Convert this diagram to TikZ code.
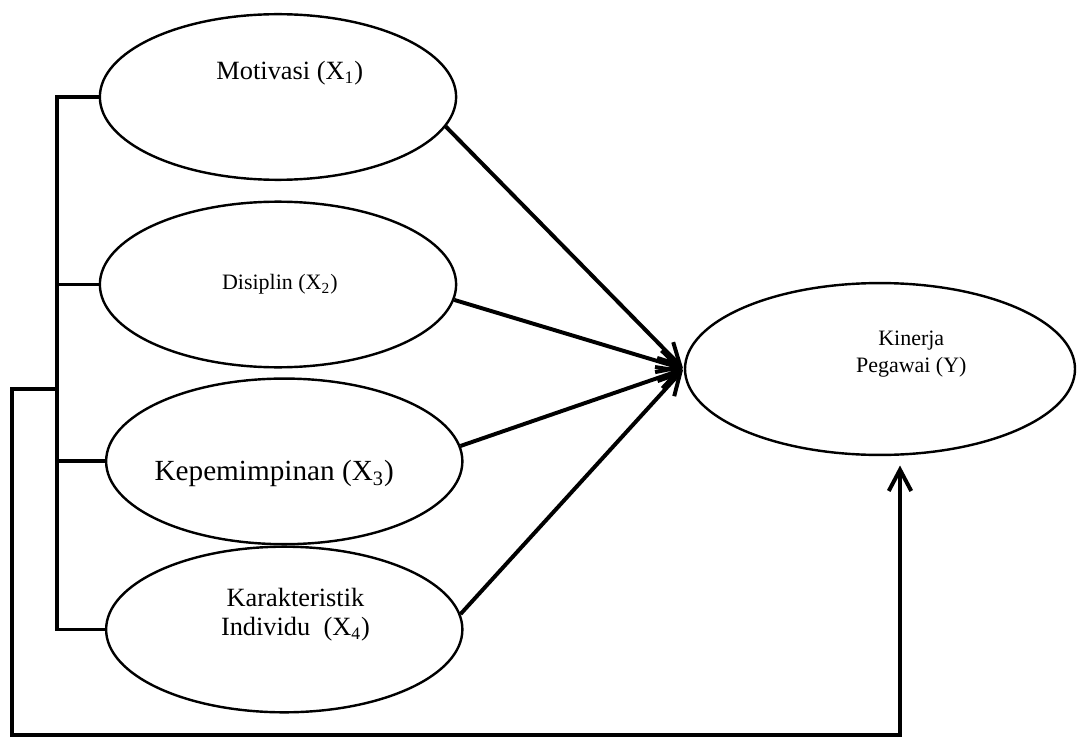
\documentclass[tikz,border=0pt]{standalone}
\usepackage{fontspec}
\setmainfont{Liberation Serif}
\usetikzlibrary{arrows.meta,shapes.geometric}

\begin{document}
\begin{tikzpicture}[
            > = {Straight Barb[length=3.4mm,width=3.6mm]}, % open arrow head
            factor/.style = {ellipse, draw, line width=1.1pt,
                minimum width=5.7cm, minimum height=2.65cm, inner sep=0pt},
            link/.style = {line width=1.8pt}, % connector style
            small/.style = {font=\fontsize{10}{12}\selectfont},
            node distance = 2.83cm, % distance between ellipses
            font = \fontsize{12}{13}\selectfont
        ]
    \useasboundingbox (0,0) rectangle (17.248,-11.792);

    \node[factor] (mot) at (4.448,-1.552) {};
    \node[factor] (dis) [below of=mot, node distance=3.0cm] {};
    \node[factor] (kep) [below of=dis, xshift=0.1cm] {};
    \node[factor] (kar) [below of=kep, node distance=2.69cm] {};
    \node[factor, minimum width=6.24cm, minimum height=2.75cm] (kin) at (14.08,-5.904) {};

    % texts
    \node (motlbl) at ([shift={(0.19,0.38)}]mot.center) {Motivasi (X\textsubscript{1})};
    \node[small] (dislbl) at ([shift={(0.03,0)}]dis.center) {Disiplin (X\textsubscript{2})};
    \node[font=\fontsize{13.3}{15}\selectfont] (keplbl) at ([shift={(-0.16,-0.19)}]kep.center) {Kepemimpinan (X\textsubscript{3})};
    \node[align=center] (karlbl) at ([shift={(0.18,0.24)}]kar.center) {Karakteristik\\Individu\ \ (X\textsubscript{4})};
    \node[small, align=center] (kinlbl) at ([shift={(0.5,0.24)}]kin.center) {Kinerja\\Pegawai (Y)};

    % bracket on the left
    \coordinate (brk) at (0.912,0);
    \coordinate (jn) at (0.912,-6.224);
    \coordinate (lo) at (0.192,-11.76);
    \draw[link] (mot.west) -| (brk |- kar.west) -- (kar.west);
    \draw[link] (dis.west) -- (dis.west -| brk);
    \draw[link] (kep.west) -- (kep.west -| brk);

    % arrows
    \draw[link,->,shorten >=0.5pt] (mot.-10) -- (kin.west);
    \draw[link,->,shorten >=0.5pt] (dis.-5) -- (kin.west);
    \draw[link,->,shorten >=0.5pt] (kep.5) -- (kin.west);
    \draw[link,->,shorten >=0.5pt] (kar.5) -- (kin.west);
    \draw[link,->,shorten >=0.15cm] (jn) -| (lo) -| ([xshift=0.32cm]kin.south);

\end{tikzpicture}
\end{document}
